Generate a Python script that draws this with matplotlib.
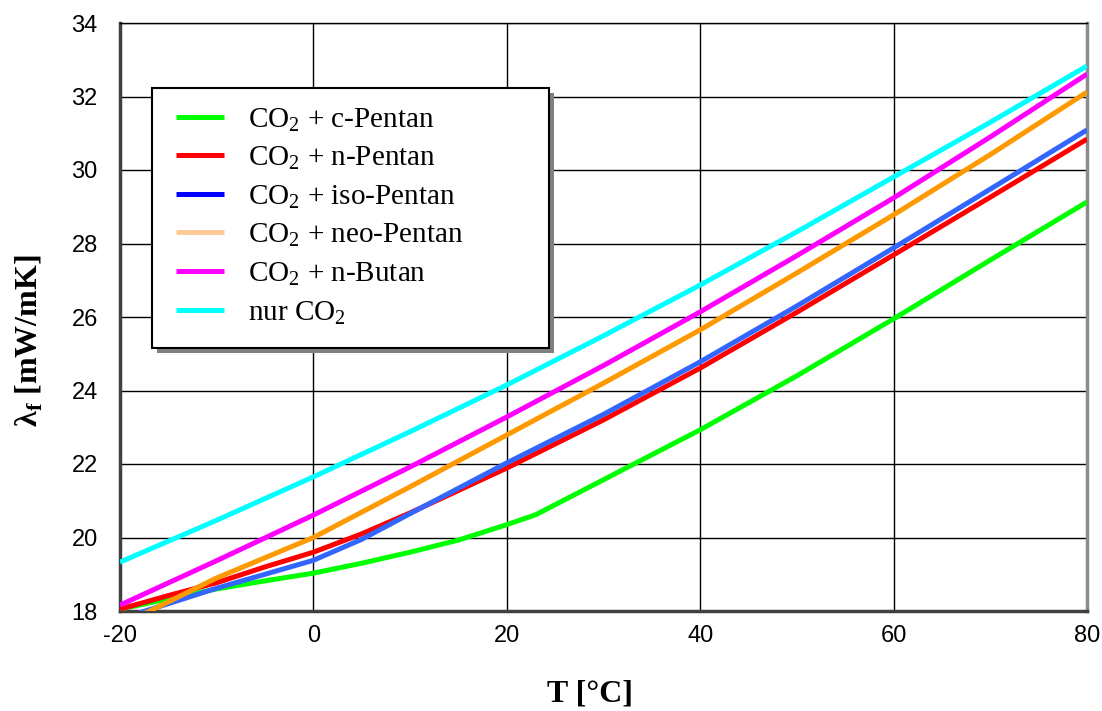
import matplotlib
matplotlib.use("Agg")
import matplotlib.pyplot as plt
from matplotlib.lines import Line2D
from matplotlib.patches import Rectangle

plt.rcParams['mathtext.fontset'] = 'custom'
plt.rcParams['mathtext.rm'] = 'Liberation Serif'
plt.rcParams['mathtext.bf'] = 'Liberation Serif:bold'
plt.rcParams['axes.unicode_minus'] = False

T = [-20, -15, -10, -5, 0, 5, 10, 15, 20, 23, 28, 33, 40, 50, 60, 70, 80]
c_pentan = [18.05, 18.33, 18.6, 18.82, 19.03, 19.3, 19.6, 19.93, 20.35, 20.62, 21.3, 21.98, 22.93, 24.4, 25.95, 27.55, 29.13]

T2 = [-20, -15, -10, -5, 0, 5, 10, 20, 30, 40, 50, 60, 70, 80]
n_pentan = [18.05, 18.42, 18.77, 19.2, 19.6, 20.1, 20.67, 21.89, 23.2, 24.61, 26.13, 27.69, 29.26, 30.84]
iso_pentan = [17.78, 18.2, 18.62, 19.0, 19.38, 19.95, 20.65, 22.03, 23.35, 24.78, 26.3, 27.88, 29.48, 31.09]

T3 = [-20, -10, -5, 0, 10, 20, 30, 40, 50, 60, 70, 80]
neo_pentan = [17.6, 18.9, 19.45, 20.0, 21.38, 22.79, 24.2, 25.65, 27.2, 28.78, 30.42, 32.12]

T4 = [-20, -10, 0, 10, 20, 30, 40, 50, 60, 70, 80]
n_butan = [18.16, 19.37, 20.61, 21.92, 23.28, 24.68, 26.14, 27.67, 29.24, 30.9, 32.61]
nur_co2 = [19.33, 20.47, 21.65, 22.88, 24.15, 25.49, 26.87, 28.32, 29.81, 31.3, 32.83]

labels = ['CO$_2$ + c-Pentan', 'CO$_2$ + n-Pentan', 'CO$_2$ + iso-Pentan',
          'CO$_2$ + neo-Pentan', 'CO$_2$ + n-Butan', 'nur CO$_2$']
line_colors = ['#00ff00', '#ff0000', '#3366ff', '#ff9900', '#ff00ff', '#00ffff']
legend_colors = ['#00ff00', '#ff0000', '#0000ff', '#ffcc99', '#ff00ff', '#00ffff']

xticks = [-20, 0, 20, 40, 60, 80]
yticks = [18, 20, 22, 24, 26, 28, 30, 32, 34]

fig = plt.figure(figsize=(11.02, 7.11), dpi=100)
AXW, AXH = 967, 588
ax = fig.add_axes([120/1102, 1-611/711, AXW/1102, AXH/711])

series = [(T, c_pentan), (T2, n_pentan), (T2, iso_pentan), (T3, neo_pentan), (T4, n_butan), (T4, nur_co2)]
for (x, y), c in zip(series, line_colors):
    ax.plot(x, y, color=c, lw=3.6, solid_capstyle='butt', zorder=3)

ax.set_xlim(-20, 80)
ax.set_ylim(18, 34)
ax.set_xticks(xticks)
ax.set_yticks(yticks)
ax.grid(True, color='black', lw=1.0, zorder=1)
ax.tick_params(length=0, labelsize=17)
ax.tick_params(axis='y', pad=16)
ax.tick_params(axis='x', pad=10)
for lab in ax.get_xticklabels() + ax.get_yticklabels():
    lab.set_fontfamily('Liberation Sans')

for s in ['left', 'bottom']:
    ax.spines[s].set_color('#404040')
    ax.spines[s].set_linewidth(2.5)
ax.spines['right'].set_color('#8c8c8c')
ax.spines['right'].set_linewidth(2.5)
ax.spines['top'].set_color('black')
ax.spines['top'].set_linewidth(1.0)

ax.set_xlabel('T [°C]', fontfamily='Liberation Serif', fontweight='bold', fontsize=23)
ax.set_ylabel(r'λ$_\mathbf{f}$ [mW/mK]', fontfamily='Liberation Serif', fontweight='bold', fontsize=23)
ax.xaxis.set_label_coords(0.486, -68/AXH)
ax.yaxis.set_label_coords(-75/AXW, 0.46)

# legend frame with shadow (box 152..549 x 88..348 px)
bx0 = (152-120)/AXW
by0 = (611-348)/AXH
bw = 397/AXW
bh = 260/AXH
ax.add_patch(Rectangle((bx0 + 5/AXW, by0 - 5/AXH), bw, bh, transform=ax.transAxes,
                       facecolor='#808080', edgecolor='none', zorder=4, clip_on=False))
ax.add_patch(Rectangle((bx0, by0), bw, bh, transform=ax.transAxes,
                       facecolor='white', edgecolor='black', lw=1.5, zorder=4.5, clip_on=False))

handles = [Line2D([0], [0], color=c, lw=3.6, solid_capstyle='butt') for c in legend_colors]
leg = ax.legend(handles, labels, loc='upper left', bbox_to_anchor=(bx0, (611-82)/AXH),
                borderaxespad=0, frameon=False,
                prop={'family': 'Liberation Serif', 'size': 21},
                handlelength=1.64, handletextpad=0.82, labelspacing=0.37,
                borderpad=0.82)
leg.set_zorder(5)

fig.savefig('out.png', dpi=100)
